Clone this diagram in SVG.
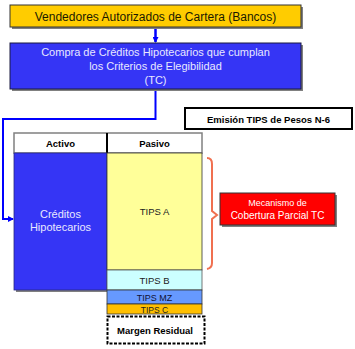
<svg xmlns="http://www.w3.org/2000/svg" width="355" height="349" viewBox="0 0 355 349">
<style>
text{font-family:"Liberation Sans",Arial,sans-serif;text-anchor:middle}
.w{fill:#ffffff}
.b{fill:#000000}
.bd{font-weight:bold}
.shadow{fill:#808080}
</style>
<defs>
<marker id="ab" markerWidth="6" markerHeight="6" refX="5" refY="3" orient="auto" markerUnits="userSpaceOnUse">
<path d="M0,0 L6,3 L0,6 Z" fill="#0000ff"/>
</marker>
</defs>
<rect width="355" height="349" fill="#ffffff"/>
<g id="connectors">
<line x1="155.5" y1="27" x2="155.5" y2="42" stroke="#0000ff" stroke-width="2.5" marker-end="url(#ab)"/>
<polyline points="155.5,89 155.5,119 3,119 3,219 13,219" fill="none" stroke="#0000ff" stroke-width="2" marker-end="url(#ab)"/>
<path d="M207,158 Q212,158 212,164 L212,211 L217,215 L212,219 L212,263 Q212,268 207,269" fill="none" stroke="#f07050" stroke-width="2"/>
</g>
<g id="vendedores">
<rect x="12" y="7" width="291" height="22" class="shadow"/>
<rect x="10" y="5" width="291" height="22" fill="#ffcc00" stroke="#333333" stroke-width="1"/>
<text x="155.5" y="20.5" font-size="12" fill="#1a1a00">Vendedores Autorizados de Cartera (Bancos)</text>
</g>
<g id="compra">
<rect x="12" y="45" width="291" height="46" class="shadow"/>
<rect x="10" y="43" width="291" height="46" fill="#3535f5" stroke="#1a1a40" stroke-width="1"/>
<text x="155.5" y="56" font-size="11" fill="#e8e8ff">Compra de Créditos Hipotecarios que cumplan</text>
<text x="155.5" y="70" font-size="11" fill="#e8e8ff">los Criterios de Elegibilidad</text>
<text x="155.5" y="84" font-size="11" fill="#e8e8ff">(TC)</text>
</g>
<g id="emision">
<rect x="185" y="108" width="167" height="21" fill="#ffffff" stroke="#000000" stroke-width="2"/>
<text x="268.5" y="122.5" font-size="9.5" class="b bd">Emisión TIPS de Pesos N-6</text>
</g>
<g id="tabla">
<rect x="16" y="155" width="93" height="137" class="shadow"/>
<rect x="14" y="133" width="188" height="20" fill="#ffffff" stroke="#808080" stroke-width="1.5"/>
<line x1="107" y1="133" x2="107" y2="153" stroke="#000000" stroke-width="2"/>
<text x="60.5" y="147" font-size="9.5" class="b bd">Activo</text>
<text x="154.5" y="147" font-size="9.5" class="b bd">Pasivo</text>
</g>
<g id="creditos">
<rect x="14" y="153" width="93" height="137" fill="#3535f5" stroke="#2a2a80" stroke-width="0.8"/>
<text x="60.5" y="218" font-size="11" fill="#e8e8ff">Créditos</text>
<text x="60.5" y="231" font-size="11" fill="#e8e8ff">Hipotecarios</text>
</g>
<g id="tipsA">
<rect x="107" y="153" width="95" height="117" fill="#ffff99" stroke="#333333" stroke-width="0.8"/>
<text x="154.5" y="215" font-size="9.5" fill="#222222">TIPS A</text>
</g>
<g id="tipsB">
<rect x="107" y="270" width="95" height="20" fill="#ccffff" stroke="#555555" stroke-width="0.8"/>
<text x="154.5" y="284" font-size="9.5" fill="#222222">TIPS B</text>
</g>
<g id="tipsMZ">
<rect x="107" y="290" width="95" height="14" fill="#6699ff" stroke="#333333" stroke-width="0.8"/>
<text x="154.5" y="300.5" font-size="9" fill="#111133">TIPS MZ</text>
</g>
<g id="tipsC">
<rect x="107" y="304" width="95" height="10" fill="#ffbf00" stroke="#333333" stroke-width="0.8"/>
<text x="154.5" y="312.5" font-size="8.5" fill="#222222">TIPS C</text>
</g>
<g id="margen">
<rect x="107.5" y="316.5" width="97" height="27" fill="#ffffff" stroke="#000000" stroke-width="2" stroke-dasharray="3,1.5"/>
<text x="155" y="334" font-size="9.5" class="b bd">Margen Residual</text>
</g>
<g id="mecanismo">
<rect x="222" y="195" width="115" height="32" class="shadow"/>
<rect x="220" y="193" width="115" height="32" fill="#ff0000" stroke="#333333" stroke-width="1"/>
<text x="277.5" y="206" font-size="9" class="w">Mecanismo de</text>
<text x="277.5" y="218.5" font-size="10" class="w">Cobertura Parcial TC</text>
</g>
</svg>
